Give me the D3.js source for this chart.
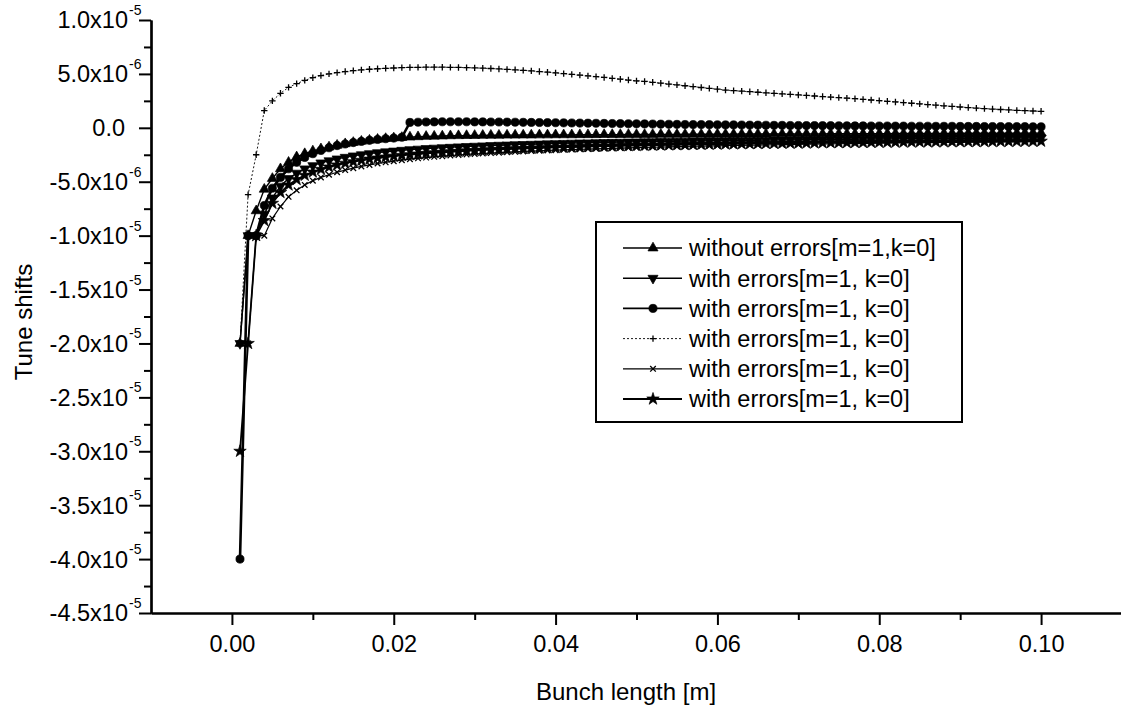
<!DOCTYPE html>
<html>
<head>
<meta charset="utf-8">
<script src="https://cdn.jsdelivr.net/npm/d3@7"></script>
<style>
  body { margin: 0; background: #fff; }
  svg text { font-family: "Liberation Sans", Arial, sans-serif; fill: #000; }
</style>
</head>
<body>
<div class="container"></div>
<script>
// bunch length samples [m]
const bunchLength = [
  0.001, 0.002, 0.003, 0.004, 0.005, 0.006, 0.007, 0.008, 0.009, 0.010,
  0.011, 0.012, 0.013, 0.014, 0.015, 0.016, 0.017, 0.018, 0.019, 0.020,
  0.021, 0.022, 0.023, 0.024, 0.025, 0.026, 0.027, 0.028, 0.029, 0.030,
  0.031, 0.032, 0.033, 0.034, 0.035, 0.036, 0.037, 0.038, 0.039, 0.040,
  0.041, 0.042, 0.043, 0.044, 0.045, 0.046, 0.047, 0.048, 0.049, 0.050,
  0.051, 0.052, 0.053, 0.054, 0.055, 0.056, 0.057, 0.058, 0.059, 0.060,
  0.061, 0.062, 0.063, 0.064, 0.065, 0.066, 0.067, 0.068, 0.069, 0.070,
  0.071, 0.072, 0.073, 0.074, 0.075, 0.076, 0.077, 0.078, 0.079, 0.080,
  0.081, 0.082, 0.083, 0.084, 0.085, 0.086, 0.087, 0.088, 0.089, 0.090,
  0.091, 0.092, 0.093, 0.094, 0.095, 0.096, 0.097, 0.098, 0.099, 0.100
];

// tune shifts, in units of 1e-6
const withoutErrors = [
  -20, -10, -7.7, -5.7, -4.7, -3.8, -3.2, -2.7, -2.4, -2.15,
  -1.95, -1.78, -1.62, -1.48, -1.36, -1.25, -1.15, -1.07, -1.0, -0.94,
  -0.9, -0.86, -0.83, -0.8, -0.78, -0.76, -0.74, -0.73, -0.72, -0.71,
  -0.7, -0.69, -0.69, -0.68, -0.68, -0.67, -0.67, -0.66, -0.66, -0.65,
  -0.65, -0.65, -0.64, -0.64, -0.64, -0.63, -0.63, -0.63, -0.62, -0.62,
  -0.62, -0.62, -0.61, -0.61, -0.61, -0.6, -0.6, -0.6, -0.6, -0.59,
  -0.59, -0.59, -0.58, -0.58, -0.58, -0.58, -0.57, -0.57, -0.57, -0.56,
  -0.56, -0.56, -0.56, -0.55, -0.55, -0.55, -0.55, -0.54, -0.54, -0.54,
  -0.54, -0.53, -0.53, -0.53, -0.53, -0.52, -0.52, -0.52, -0.52, -0.51,
  -0.51, -0.51, -0.51, -0.5, -0.5, -0.5, -0.5, -0.5, -0.49, -0.49
];
const withErrorsA = [
  -20, -10, -10, -8.0, -6.5, -5.4, -4.7, -4.2, -3.8, -3.5,
  -3.25, -3.05, -2.88, -2.73, -2.6, -2.49, -2.39, -2.3, -2.22, -2.15,
  -2.08, -2.02, -1.97, -1.92, -1.88, -1.84, -1.8, -1.76, -1.73, -1.7,
  -1.67, -1.64, -1.61, -1.59, -1.56, -1.54, -1.52, -1.5, -1.48, -1.46,
  -1.44, -1.42, -1.4, -1.39, -1.37, -1.36, -1.34, -1.33, -1.31, -1.3,
  -1.29, -1.28, -1.26, -1.25, -1.24, -1.23, -1.22, -1.21, -1.2, -1.19,
  -1.18, -1.17, -1.16, -1.16, -1.15, -1.14, -1.13, -1.12, -1.12, -1.11,
  -1.1, -1.09, -1.09, -1.08, -1.07, -1.07, -1.06, -1.05, -1.05, -1.04,
  -1.04, -1.03, -1.02, -1.02, -1.01, -1.01, -1.0, -1.0, -0.99, -0.99,
  -0.98, -0.98, -0.97, -0.97, -0.96, -0.96, -0.95, -0.95, -0.95, -0.94
];
const withErrorsB = [
  -40, -10, -10, -7.2, -5.6, -4.6, -3.8, -3.2, -2.75, -2.4,
  -2.1, -1.85, -1.65, -1.5, -1.37, -1.26, -1.16, -1.08, -1.01, -0.95,
  -0.88, 0.5, 0.52, 0.54, 0.55, 0.56, 0.56, 0.56, 0.56, 0.55,
  0.55, 0.54, 0.54, 0.53, 0.52, 0.51, 0.5, 0.49, 0.48, 0.47,
  0.46, 0.45, 0.44, 0.43, 0.42, 0.41, 0.4, 0.39, 0.38, 0.37,
  0.36, 0.35, 0.34, 0.33, 0.32, 0.31, 0.3, 0.3, 0.29, 0.28,
  0.27, 0.27, 0.26, 0.25, 0.25, 0.24, 0.23, 0.23, 0.22, 0.22,
  0.21, 0.21, 0.2, 0.2, 0.19, 0.19, 0.18, 0.18, 0.17, 0.17,
  0.17, 0.16, 0.16, 0.15, 0.15, 0.15, 0.14, 0.14, 0.14, 0.13,
  0.13, 0.13, 0.12, 0.12, 0.12, 0.11, 0.11, 0.11, 0.1, 0.1
];
const withErrorsC = [
  -20, -6.2, -2.5, 1.6, 2.5, 3.2, 3.75, 4.1, 4.4, 4.65,
  4.85, 5.0, 5.12, 5.22, 5.3, 5.37, 5.43, 5.48, 5.52, 5.55,
  5.58, 5.6, 5.61, 5.62, 5.62, 5.62, 5.61, 5.6, 5.58, 5.56,
  5.53, 5.5, 5.46, 5.42, 5.38, 5.33, 5.28, 5.22, 5.16, 5.1,
  5.03, 4.96, 4.89, 4.82, 4.75, 4.67, 4.59, 4.51, 4.43, 4.35,
  4.3, 4.22, 4.14, 4.06, 3.98, 3.9, 3.82, 3.74, 3.66, 3.58,
  3.5, 3.45, 3.4, 3.35, 3.3, 3.25, 3.2, 3.15, 3.1, 3.05,
  3.0, 2.95, 2.9, 2.85, 2.8, 2.75, 2.7, 2.64, 2.58, 2.52,
  2.46, 2.4, 2.34, 2.28, 2.22, 2.16, 2.1, 2.04, 1.98, 1.93,
  1.88, 1.83, 1.78, 1.74, 1.7, 1.66, 1.62, 1.59, 1.56, 1.53
];
const withErrorsD = [
  -20, -20, -10, -10, -8.4, -7.3, -6.4, -5.8, -5.3, -4.9,
  -4.6, -4.35, -4.12, -3.92, -3.74, -3.58, -3.44, -3.31, -3.2, -3.1,
  -3.0, -2.91, -2.83, -2.76, -2.69, -2.63, -2.57, -2.52, -2.47, -2.42,
  -2.38, -2.34, -2.3, -2.26, -2.23, -2.19, -2.16, -2.13, -2.1, -2.07,
  -2.04, -2.02, -1.99, -1.97, -1.94, -1.92, -1.9, -1.88, -1.86, -1.84,
  -1.82, -1.8, -1.78, -1.76, -1.75, -1.73, -1.71, -1.7, -1.68, -1.67,
  -1.65, -1.64, -1.62, -1.61, -1.6, -1.58, -1.57, -1.56, -1.55, -1.54,
  -1.52, -1.51, -1.5, -1.49, -1.48, -1.47, -1.46, -1.45, -1.44, -1.43,
  -1.42, -1.41, -1.4, -1.4, -1.39, -1.38, -1.37, -1.36, -1.36, -1.35,
  -1.34, -1.33, -1.33, -1.32, -1.31, -1.31, -1.3, -1.29, -1.29, -1.28
];
const withErrorsE = [
  -30, -20, -10, -8.6, -7.0, -6.0, -5.3, -4.8, -4.4, -4.1,
  -3.85, -3.63, -3.44, -3.28, -3.14, -3.01, -2.9, -2.8, -2.71, -2.63,
  -2.56, -2.49, -2.43, -2.37, -2.32, -2.27, -2.22, -2.18, -2.14, -2.1,
  -2.07, -2.03, -2.0, -1.97, -1.94, -1.92, -1.89, -1.87, -1.84, -1.82,
  -1.8, -1.78, -1.76, -1.74, -1.72, -1.7, -1.69, -1.67, -1.65, -1.64,
  -1.62, -1.61, -1.6, -1.58, -1.57, -1.56, -1.55, -1.53, -1.52, -1.51,
  -1.5, -1.49, -1.48, -1.47, -1.46, -1.45, -1.44, -1.43, -1.42, -1.42,
  -1.41, -1.4, -1.39, -1.38, -1.38, -1.37, -1.36, -1.36, -1.35, -1.34,
  -1.34, -1.33, -1.32, -1.32, -1.31, -1.31, -1.3, -1.3, -1.29, -1.29,
  -1.28, -1.28, -1.27, -1.27, -1.26, -1.26, -1.25, -1.25, -1.25, -1.24
];

const legendLabels = [
  "without errors[m=1,k=0]",
  "with errors[m=1, k=0]",
  "with errors[m=1, k=0]",
  "with errors[m=1, k=0]",
  "with errors[m=1, k=0]",
  "with errors[m=1, k=0]"
];

const xMajorTicks = [0, 0.02, 0.04, 0.06, 0.08, 0.10];
const xMinorTicks = [0.01, 0.03, 0.05, 0.07, 0.09];
const yMajorTicks = [10, 5, 0, -5, -10, -15, -20, -25, -30, -35, -40, -45];
const yMinorTicks = [7.5, 2.5, -2.5, -7.5, -12.5, -17.5, -22.5, -27.5, -32.5, -37.5, -42.5];

const width = 1121, height = 708;
const fontSize = "23.5px";

const svg = d3.select(".container")
  .append("svg")
  .attr("width", width)
  .attr("height", height);

const xScale = d3.scaleLinear().domain([-0.01, 0.11]).range([151, 1122]);
const yScale = d3.scaleLinear().domain([-45, 10]).range([613, 20]);

// series styles: marker, line width, dash
const series = [
  { values: withoutErrors, marker: "triUp", lw: 1.4, dash: null },
  { values: withErrorsA, marker: "triDown", lw: 1.4, dash: null },
  { values: withErrorsB, marker: "circle", lw: 2.6, dash: null },
  { values: withErrorsC, marker: "plus", lw: 0.9, dash: "2,2" },
  { values: withErrorsD, marker: "times", lw: 1.2, dash: null },
  { values: withErrorsE, marker: "star", lw: 1.8, dash: null }
];

const markerPath = (type) => {
  if (type === "triUp") return d3.symbol(d3.symbolTriangle, 44)();
  if (type === "triDown") return d3.symbol(d3.symbolTriangle, 44)();
  if (type === "circle") return d3.symbol(d3.symbolCircle, 52)();
  if (type === "star") return d3.symbol(d3.symbolStar, 48)();
  if (type === "plus") return "M-3.2,0H3.2M0,-3.2V3.2";
  return "M-2.8,-2.8L2.8,2.8M-2.8,2.8L2.8,-2.8";
};

const drawMarker = (sel, type) => {
  sel.append("path")
    .attr("d", markerPath(type))
    .attr("transform", type === "triDown" ? "rotate(180)" : null)
    .attr("fill", (type === "plus" || type === "times") ? "none" : "#000")
    .attr("stroke", "#000")
    .attr("stroke-width", (type === "plus" || type === "times") ? 1.3 : 0.7);
};

const line = d3.line()
  .x((d) => xScale(d[0]))
  .y((d) => yScale(d[1]));

const plot = svg.append("g");

series.forEach((s) => {
  const pts = bunchLength.map((x, i) => [x, s.values[i]]);

  plot.append("path")
    .datum(pts)
    .attr("d", line)
    .attr("fill", "none")
    .attr("stroke", "#000")
    .attr("stroke-width", s.lw)
    .attr("stroke-dasharray", s.dash);

  plot.append("g")
    .selectAll("g")
    .data(pts)
    .enter()
    .append("g")
    .attr("transform", (d) => `translate(${xScale(d[0])},${yScale(d[1])})`)
    .each(function () { drawMarker(d3.select(this), s.marker); });
});

// x axis
const xAxisG = svg.append("g").attr("transform", "translate(0,613)");
xAxisG.call(d3.axisBottom(xScale)
  .tickValues(xMajorTicks)
  .tickSize(12)
  .tickSizeOuter(0)
  .tickFormat(d3.format(".2f")));
xAxisG.append("g").call(d3.axisBottom(xScale)
  .tickValues(xMinorTicks)
  .tickSize(7)
  .tickSizeOuter(0)
  .tickFormat(""));
xAxisG.selectAll("path.domain").attr("stroke-width", 2.2);
xAxisG.selectAll(".tick line").attr("stroke-width", 2);
xAxisG.selectAll(".tick text")
  .attr("y", 22)
  .attr("dy", "0.71em")
  .style("font-size", fontSize)
  .style("font-family", "'Liberation Sans', Arial, sans-serif");

// y axis
const yAxisG = svg.append("g").attr("transform", "translate(151,0)");
yAxisG.call(d3.axisLeft(yScale)
  .tickValues(yMajorTicks)
  .tickSize(12)
  .tickSizeOuter(0)
  .tickFormat(""));
yAxisG.append("g").call(d3.axisLeft(yScale)
  .tickValues(yMinorTicks)
  .tickSize(7)
  .tickSizeOuter(0)
  .tickFormat(""));
yAxisG.selectAll("path.domain").attr("stroke-width", 2.2);
yAxisG.selectAll(".tick line").attr("stroke-width", 2);

// y tick labels like "-1.5x10^-5"
const yLabels = svg.append("g").style("font-size", fontSize);
yMajorTicks.forEach((v) => {
  const y = yScale(v);
  if (v === 0) {
    yLabels.append("text")
      .attr("x", 125)
      .attr("y", y)
      .attr("dy", "0.36em")
      .attr("text-anchor", "end")
      .text("0.0");
    return;
  }
  const exp = Math.abs(v) >= 10 ? -5 : -6;
  const mant = v / Math.pow(10, exp + 6);
  yLabels.append("text")
    .attr("x", 128)
    .attr("y", y)
    .attr("dy", "0.36em")
    .attr("text-anchor", "end")
    .text(`${mant.toFixed(1)}x10`);
  yLabels.append("text")
    .attr("x", 129)
    .attr("y", y - 5)
    .style("font-size", "14px")
    .text(`${exp}`);
});

// axis titles
svg.append("text")
  .attr("transform", "translate(32,322) rotate(-90)")
  .attr("text-anchor", "middle")
  .style("font-size", "24px")
  .text("Tune shifts");

svg.append("text")
  .attr("x", 626)
  .attr("y", 700)
  .attr("text-anchor", "middle")
  .style("font-size", "24px")
  .text("Bunch length [m]");

// legend
const legend = svg.append("g");
legend.append("rect")
  .attr("x", 596)
  .attr("y", 222)
  .attr("width", 366)
  .attr("height", 200)
  .attr("fill", "#fff")
  .attr("stroke", "#000")
  .attr("stroke-width", 2);

series.forEach((s, i) => {
  const ly = 248 + i * 30.2;
  const row = legend.append("g").attr("transform", `translate(0,${ly})`);
  row.append("line")
    .attr("x1", 623)
    .attr("x2", 682)
    .attr("stroke", "#000")
    .attr("stroke-width", Math.min(s.lw, 1.8))
    .attr("stroke-dasharray", s.dash);
  const m = row.append("g").attr("transform", "translate(653,0)");
  drawMarker(m, s.marker);
  row.append("text")
    .attr("x", 689)
    .attr("dy", "0.36em")
    .style("font-size", fontSize)
    .text(legendLabels[i]);
});
</script>
</body>
</html>
